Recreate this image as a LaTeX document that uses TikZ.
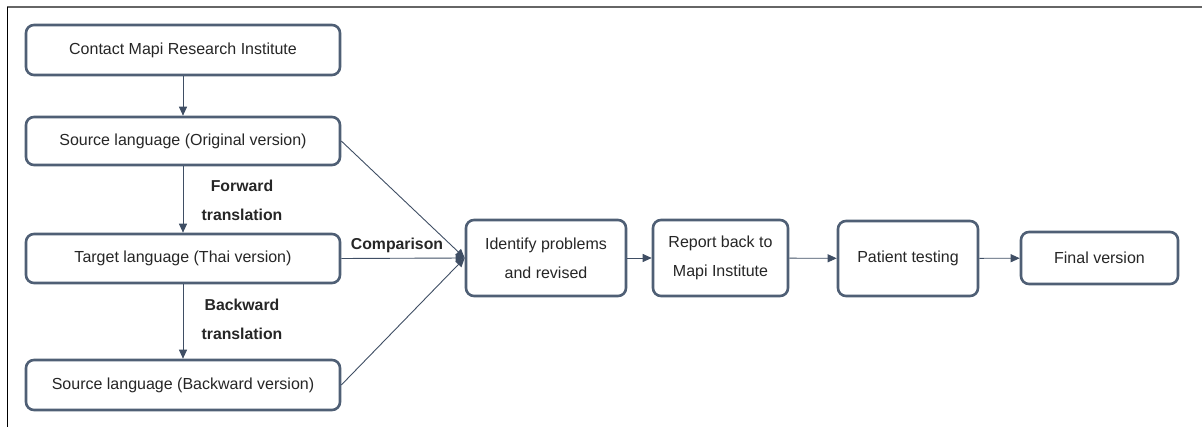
\documentclass[tikz,border=0pt]{standalone}
\usepackage{fontspec}
\setmainfont{Liberation Sans}
\usetikzlibrary{arrows.meta}
\definecolor{boxc}{HTML}{4F5F75}
\definecolor{linec}{HTML}{3F4E64}
\begin{document}
\begin{tikzpicture}[x=1pt,y=-1pt,
  box/.style={draw=boxc,line width=2.6pt,rounded corners=8pt,fill=white,
    font=\fontsize{16}{29}\selectfont,align=center,inner sep=0pt,text=black!85},
  conn/.style={draw=linec,line width=0.9pt,-{Triangle[length=9pt,width=8pt]}},
  lab/.style={font=\fontsize{15.8}{29}\selectfont\bfseries,align=center,inner sep=0pt,text=black!85}]
\useasboundingbox (0,0) rectangle (1203,427);
\draw[black!60,line width=2pt] (7,7) -- (1202,7);
\draw[black,line width=0.8pt] (7,7) -- (7,427);
\node[box,minimum width=314pt,minimum height=50pt] (b1) at (183,50) {Contact Mapi Research Institute};
\node[box,minimum width=314pt,minimum height=48pt] (b2) at (183,141) {Source language (Original version)};
\node[box,minimum width=314pt,minimum height=49pt] (b3) at (183,258.5) {Target language (Thai version)};
\node[box,minimum width=314pt,minimum height=50pt] (b4) at (183,385) {Source language (Backward version)};
\node[box,minimum width=160pt,minimum height=76pt] (id) at (546,258) {Identify problems\\and revised};
\node[box,minimum width=135pt,minimum height=76pt] (rep) at (720.5,258) {Report back to\\Mapi Institute};
\node[box,minimum width=140pt,minimum height=75pt] (pt) at (908,258.5) {Patient testing};
\node[box,minimum width=157pt,minimum height=52pt] (fin) at (1099.5,258) {Final version};
\node[lab] (fw) at (242,200) {Forward\\translation};
\node[lab] (bw) at (242,319.5) {Backward\\translation};
\node[lab] (cmp) at (397,245) {Comparison};
\draw[conn] (b1) -- (b2);
\draw[conn] (b2) -- (b3);
\draw[conn] (b3) -- (b4);
\draw[conn] (b2.east) -- (id.west);
\draw[conn] (b3.east) -- (id.west);
\draw[conn] (b4.east) -- (id.west);
\draw[conn] (id) -- (rep);
\draw[conn] (rep) -- (pt);
\draw[conn] (pt) -- (fin);
\end{tikzpicture}
\end{document}
